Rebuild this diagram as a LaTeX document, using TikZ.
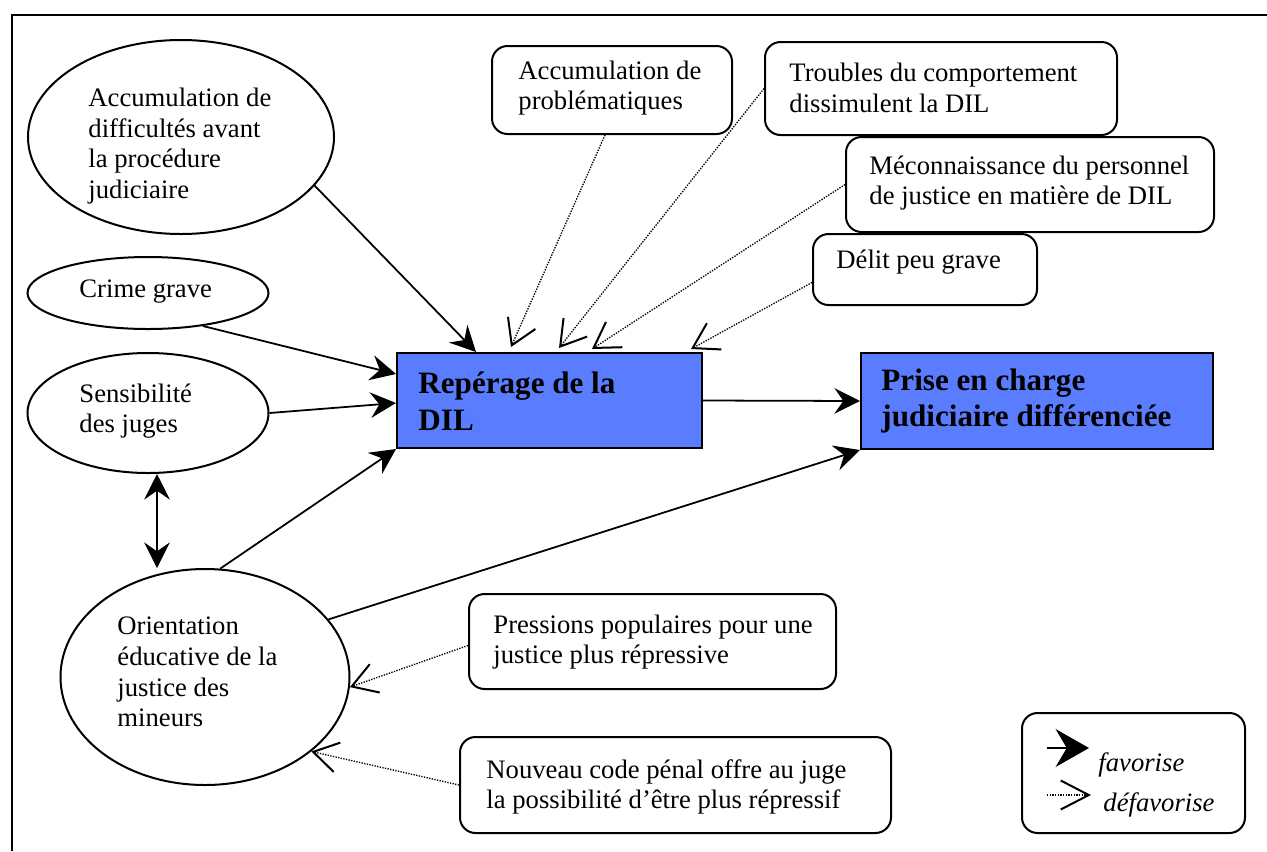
\documentclass[tikz,border=0pt]{standalone}
\usepackage{fontspec}
\setmainfont{Liberation Serif}
\usetikzlibrary{arrows.meta,shapes.geometric,calc}
\definecolor{boxblue}{RGB}{90,125,255}
\tikzset{
  ell/.style={draw, line width=0.9pt, ellipse, inner sep=0pt},
  rbox/.style={draw, line width=0.9pt, rounded corners=7pt, inner sep=0pt},
  bbox/.style={draw, line width=0.9pt, fill=boxblue, inner sep=0pt},
  lbl/.style={anchor=west, align=left, inner sep=0pt, font=\fontsize{12}{13.8}\selectfont},
  blbl/.style={anchor=west, align=left, inner sep=0pt, font=\fontsize{14}{16.5}\selectfont\bfseries},
  ilbl/.style={anchor=west, inner sep=0pt, font=\fontsize{12}{13.8}\selectfont\itshape},
  poslink/.style={line width=0.8pt, -{Stealth[length=11.5pt,width=11.5pt,inset=4pt]}},
  poslinkboth/.style={line width=0.8pt, {Stealth[length=11.5pt,width=11.5pt,inset=4pt]}-{Stealth[length=11.5pt,width=11.5pt,inset=4pt]}},
  neglink/.style={line width=0.6pt, dash pattern=on 0.6pt off 0.6pt, -{Straight Barb[length=11pt,width=13.5pt,line width=0.9pt]}},
}
\begin{document}
\begin{tikzpicture}[x=0.45pt,y=-0.45pt]
\useasboundingbox (0,0) rectangle (1267,851);
% outer frame (clipped at right and bottom)
\draw[line width=0.9pt] (12,851) -- (12,15) -- (1267,15);

% ellipses
\node[ell, minimum width=137.7pt, minimum height=87.3pt] (acc) at (181,137) {};
\node[lbl] (acct) at (88,146) {Accumulation de\\difficultés avant\\la procédure\\judiciaire};
\node[ell, minimum width=108.45pt, minimum height=32.4pt] (crime) at (148,293) {};
\node[lbl] (crimet) at (79,292) {Crime grave};
\node[ell, minimum width=108.45pt, minimum height=54pt] (sens) at (148,413) {};
\node[lbl] (senst) at (79,411) {Sensibilité\\des juges};
\node[ell, minimum width=130.05pt, minimum height=97.2pt] (ori) at (205,677) {};
\node[lbl] (orit) at (117,672) {Orientation\\éducative de la\\justice des\\mineurs};

% main boxes
\node[bbox, minimum width=137.25pt, minimum height=42.75pt] (rep) at (549.5,400.5) {};
\node[blbl] (rept) at (418,401) {Repérage de la\\DIL};
\node[bbox, minimum width=158.4pt, minimum height=43.2pt] (prise) at (1037,401) {};
\node[blbl] (priset) at (881,401) {Prise en charge\\judiciaire différenciée};

% rounded boxes
\node[rbox, minimum width=108pt, minimum height=39.6pt] (b1) at (612,90) {};
\node[lbl] (b1t) at (518,88) {Accumulation de\\problématiques};
\node[rbox, minimum width=158.4pt, minimum height=41.85pt] (b2) at (941,88.5) {};
\node[lbl] (b2t) at (789,88) {Troubles du comportement\\dissimulent la DIL};
\node[rbox, minimum width=165.6pt, minimum height=42.75pt] (b3) at (1030,184.5) {};
\node[lbl] (b3t) at (869,183) {Méconnaissance du personnel\\de justice en matière de DIL};
\node[rbox, minimum width=100.8pt, minimum height=31.95pt] (b4) at (925,269.5) {};
\node[lbl] (b4t) at (836,262) {Délit peu grave};
\node[rbox, minimum width=165.15pt, minimum height=42.75pt] (pres) at (652.5,641.5) {};
\node[lbl] (prest) at (493,642) {Pressions populaires pour une\\justice plus répressive};
\node[rbox, minimum width=193.95pt, minimum height=43.2pt] (nouv) at (675.5,785) {};
\node[lbl] (nouvt) at (486,787) {Nouveau code pénal offre au juge\\la possibilité d’être plus répressif};

% legend
\node[rbox, minimum width=100.35pt, minimum height=54pt] (leg) at (1133.5,773) {};
\coordinate (l1a) at (1047,748);
\coordinate (l1b) at (1089,748);
\coordinate (l2a) at (1047,795);
\coordinate (l2b) at (1091,795);
\draw[line width=1.2pt, -{Stealth[length=15pt,width=17pt,inset=5pt]}] (l1a) -- (l1b);
\draw[line width=0.6pt, dash pattern=on 0.6pt off 0.6pt, -{Straight Barb[length=12.6pt,width=13pt,line width=0.9pt]}] (l2a) -- (l2b);
\node[ilbl] (fav) at (1098,765) {favorise};
\node[ilbl] (defav) at (1103,805) {défavorise};

% positive links
\draw[poslink] (acc.-20) -- ($(rep.north west)+(80,0)$);
\draw[poslink] (crime.-31) -- ($(rep.north west)+(0,22)$);
\draw[poslink] (sens.east) -- ($(rep.west)+(0,2.5)$);
\draw[poslink] (ori.82) -- (rep.south west);
\draw[poslink] (rep.east) -- (prise.west);
\draw[poslink] (ori.25) -- (prise.south west);
\draw[poslinkboth] ($(sens.south)+(9,0)$) -- ($(ori.north)+(-48,0)$);

% negative links
\draw[neglink] ($(b1.south)+(-7,0)$) -- ($(rep.north west)+(115,-5)$);
\draw[neglink] (b2.west) -- ($(rep.north west)+(163,-4)$);
\draw[neglink] (b3.west) -- ($(rep.north west)+(196,-3)$);
\draw[neglink] ($(b4.west)+(0,13)$) -- ($(rep.north east)+(-12,-3)$);
\draw[neglink] ($(pres.west)+(0,4)$) -- (ori.-4);
\draw[neglink] (nouv.west) -- (ori.-35);
\end{tikzpicture}
\end{document}
